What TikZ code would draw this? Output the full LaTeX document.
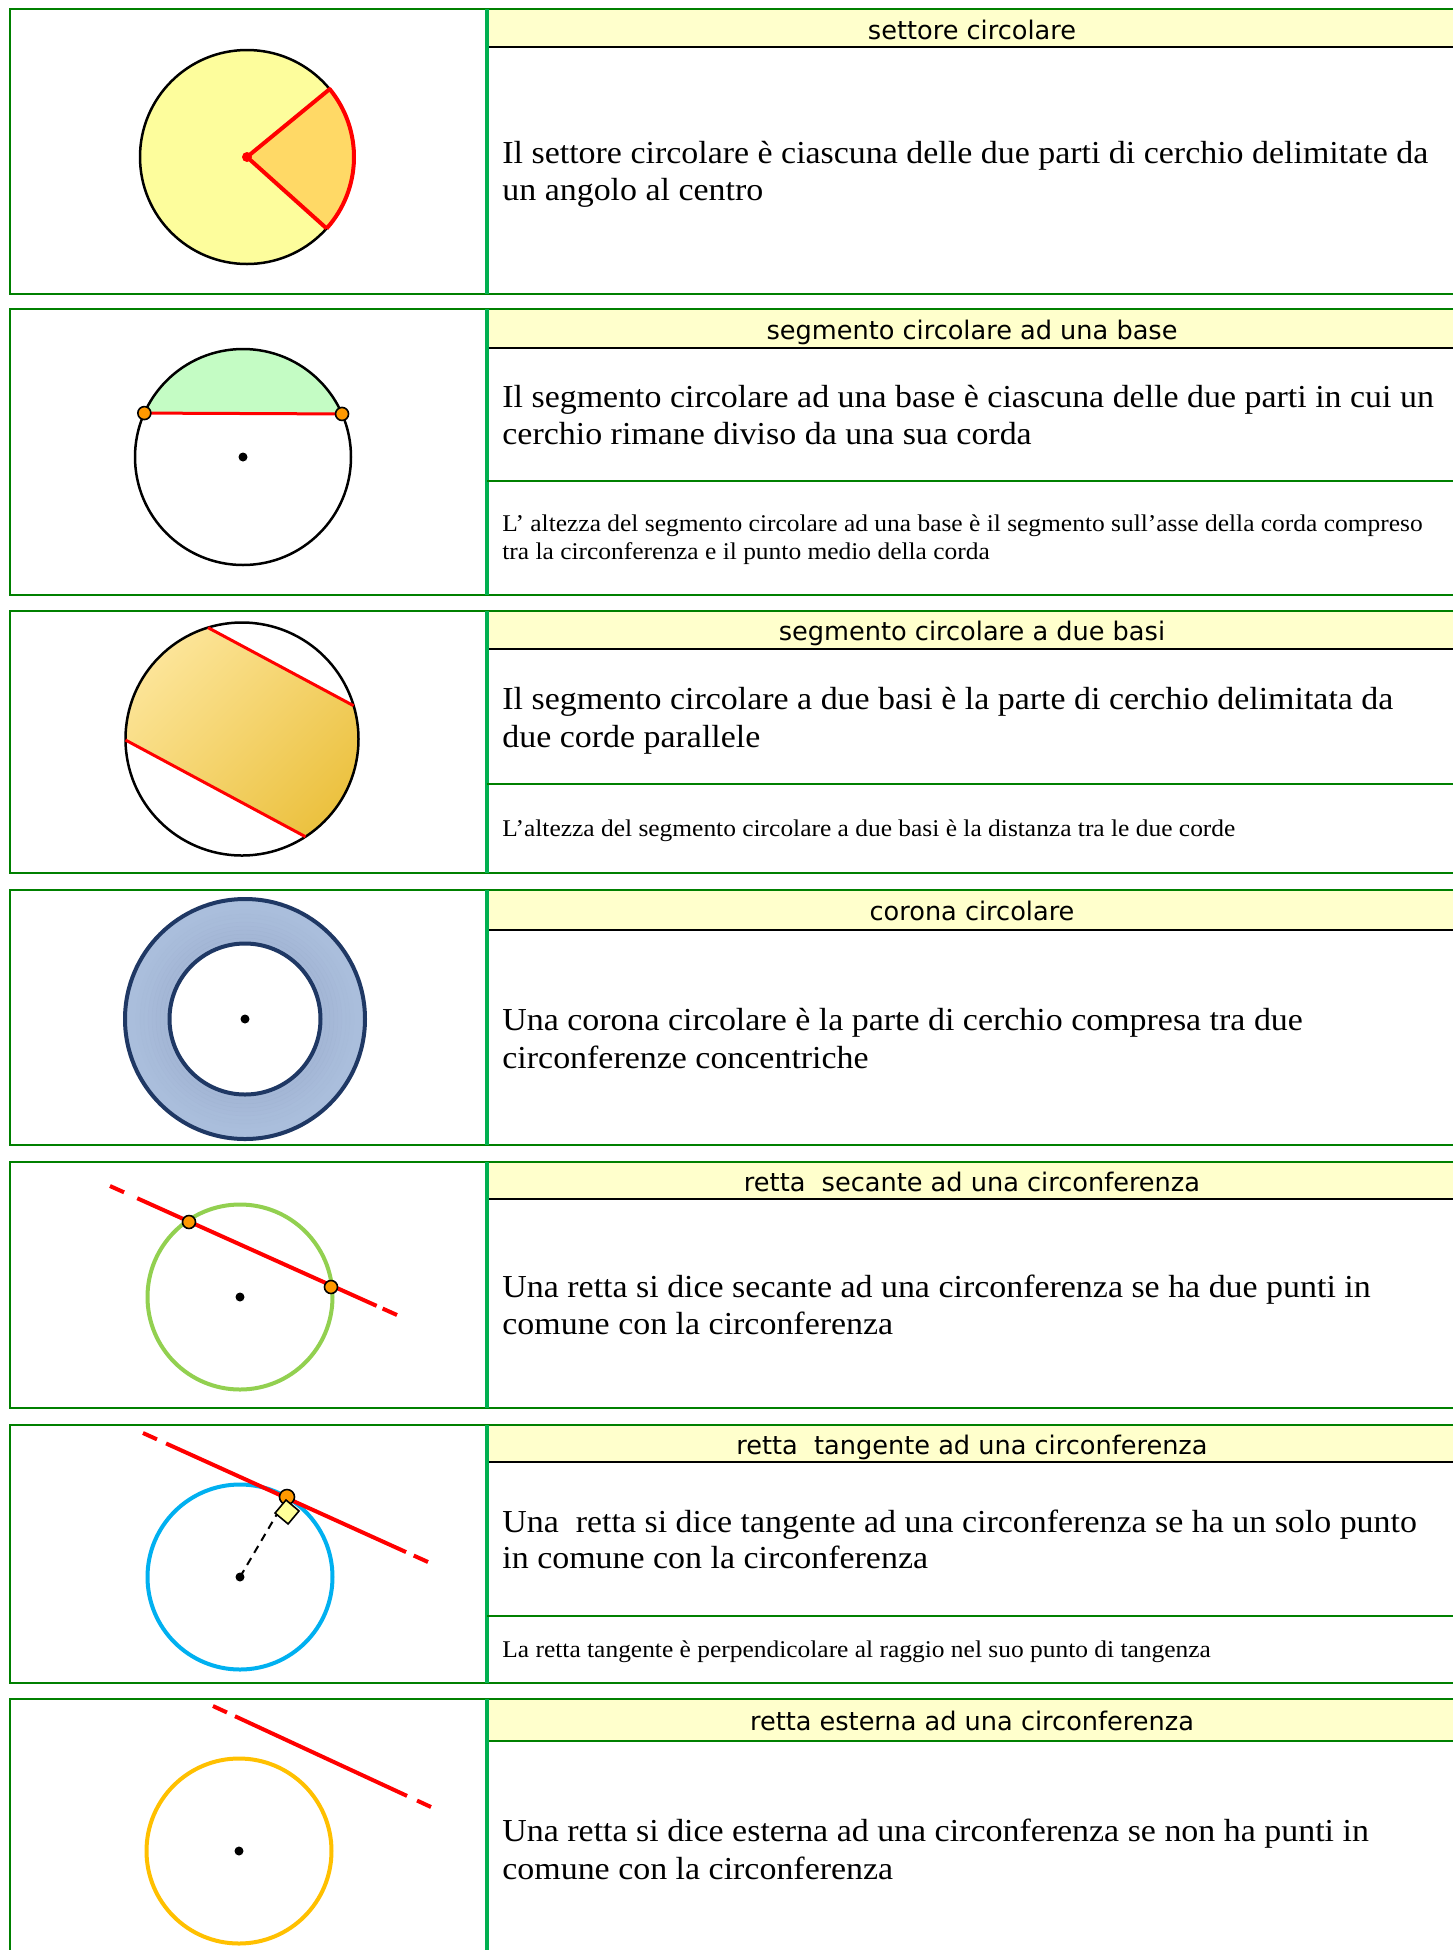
\documentclass[tikz,border=0pt]{standalone}
\usepackage{fontspec}
\setmainfont{Liberation Serif}
\newfontfamily\bodyf{Liberation Serif}[FakeStretch=1.06]
\newfontfamily\headf{DejaVu Sans}
\usetikzlibrary{calc}
\definecolor{bordergreen}{RGB}{0,128,0}
\definecolor{colgreen}{RGB}{0,176,80}
\definecolor{hdryellow}{RGB}{255,255,204}
\definecolor{paleyellow}{RGB}{253,253,156}
\definecolor{sectorfill}{RGB}{255,217,102}
\definecolor{segred}{RGB}{255,0,0}
\definecolor{segfill}{RGB}{196,252,196}
\definecolor{ptorange}{RGB}{255,153,0}
\definecolor{goldlight}{RGB}{252,228,151}
\definecolor{golddark}{RGB}{236,194,65}
\definecolor{navy}{RGB}{31,56,100}
\definecolor{ringblue}{RGB}{170,190,220}
\definecolor{ringdark}{RGB}{140,156,190}
\definecolor{secgreen}{RGB}{146,208,80}
\definecolor{tancyan}{RGB}{0,176,240}
\definecolor{extorange}{RGB}{255,192,0}
\definecolor{sqyellow}{RGB}{255,255,153}
\newcommand\redsplit[6]{%
  \draw[redln] (#1) -- ($(#1)!#3!(#2)$);
  \draw[redln] ($(#1)!#4!(#2)$) -- ($(#1)!#5!(#2)$);
  \draw[redln] ($(#1)!#6!(#2)$) -- (#2);}
\begin{document}
\begin{tikzpicture}[x=0.5pt,y=-0.5pt,
  outer/.style={draw=bordergreen,line width=1.25pt},
  coldiv/.style={draw=colgreen,line width=2pt},
  innerdiv/.style={draw=bordergreen,line width=1pt},
  hdrline/.style={draw=black,line width=0.7pt},
  hdr/.style={font=\headf\fontsize{12.8pt}{15pt}\selectfont,anchor=base,inner sep=0pt},
  body/.style={font=\bodyf\fontsize{16pt}{19pt}\selectfont,anchor=base west,inner sep=0pt},
  small/.style={font=\bodyf\fontsize{12pt}{14pt}\selectfont,anchor=base west,inner sep=0pt},
  circ/.style={line width=1.25pt},
  redln/.style={draw=segred,line width=2pt},
  chord/.style={draw=segred,line width=1.5pt},
  ptdot/.style={fill=ptorange,draw=black,line width=0.8pt},
  cdot/.style={fill=black}
]
\useasboundingbox (0,0) rectangle (1453,1950);
\fill[white] (0,0) rectangle (1453,1950);

% ---------- table frame ----------
\foreach \t/\b/\h in {9/294/47, 309/595/348, 611/873/649, 890/1145/930, 1162/1408/1199, 1425/1683/1462}{
  \fill[hdryellow] (487,\t) rectangle (1453,\h);
  \draw[hdrline] (487,\h) -- (1453,\h);
  \draw[outer] (1453,\t) -- (10,\t) -- (10,\b) -- (1453,\b);
  \draw[coldiv] (487,\t) -- (487,\b);
}
\fill[hdryellow] (487,1699) rectangle (1453,1741);
\draw[innerdiv] (487,1741) -- (1453,1741);
\draw[outer] (1453,1699) -- (10,1699) -- (10,1960);
\draw[coldiv] (487,1699) -- (487,1960);
\draw[innerdiv] (487,481) -- (1453,481);
\draw[innerdiv] (487,784) -- (1453,784);
\draw[innerdiv] (487,1616) -- (1453,1616);

% ---------- texts ----------
\node[hdr] (h1) at (972,39) {settore circolare};
\node[body] (b1a) at (502,163) {Il settore circolare è ciascuna delle due parti di cerchio delimitate da};
\node[body] (b1b) at (502,200) {un angolo al centro};

\node[hdr] (h2) at (972,339) {segmento circolare ad una base};
\node[body] (b2a) at (502,407) {Il segmento circolare ad una base è ciascuna delle due parti in cui un};
\node[body] (b2b) at (502,444) {cerchio rimane diviso da una sua corda};
\node[small] (s2a) at (502,531) {L’ altezza del segmento circolare ad una base è il segmento sull’asse della corda compreso};
\node[small] (s2b) at (502,559) {tra la circonferenza e il punto medio della corda};

\node[hdr] (h3) at (972,640) {segmento circolare a due basi};
\node[body] (b3a) at (502,709) {Il segmento circolare a due basi è la parte di cerchio delimitata da};
\node[body] (b3b) at (502,747) {due corde parallele};
\node[small] (s3a) at (502,836) {L’altezza del segmento circolare a due basi è la distanza tra le due corde};

\node[hdr] (h4) at (972,920) {corona circolare};
\node[body] (b4a) at (502,1030) {Una corona circolare è la parte di cerchio compresa tra due};
\node[body] (b4b) at (502,1068) {circonferenze concentriche};

\node[hdr] (h5) at (972,1191) {retta\ \ secante ad una circonferenza};
\node[body] (b5a) at (502,1297) {Una retta si dice secante ad una circonferenza se ha due punti in};
\node[body] (b5b) at (502,1334) {comune con la circonferenza};

\node[hdr] (h6) at (972,1454) {retta\ \ tangente ad una circonferenza};
\node[body] (b6a) at (502,1532) {Una\ \ retta si dice tangente ad una circonferenza se ha un solo punto};
\node[body] (b6b) at (502,1568) {in comune con la circonferenza};
\node[small] (s6a) at (502,1657) {La retta tangente è perpendicolare al raggio nel suo punto di tangenza};

\node[hdr] (h7) at (972,1730) {retta esterna ad una circonferenza};
\node[body] (b7a) at (502,1841) {Una retta si dice esterna ad una circonferenza se non ha punti in};
\node[body] (b7b) at (502,1879) {comune con la circonferenza};

% ---------- row 1: settore ----------
\coordinate (c1) at (247,157);
\fill[paleyellow] (c1) circle[radius=107];
\draw[circ] (c1) circle[radius=107];
\fill[sectorfill] (c1) -- ($(c1)+(-39.4:107)$) arc[start angle=-39.4,end angle=41.9,radius=107] -- cycle;
\draw[redln,line join=round] ($(c1)+(41.9:107)$) -- (c1) -- ($(c1)+(-39.4:107)$) arc[start angle=-39.4,end angle=41.9,radius=107];
\fill[segred] (c1) circle[radius=5];

% ---------- row 2: segmento ad una base ----------
\coordinate (c2) at (243,457);
\fill[segfill] ($(c2)+(-156:108)$) arc[start angle=-156,end angle=-23.5,radius=108] -- cycle;
\draw[circ] (c2) circle[radius=108];
\coordinate (p2a) at ($(c2)+(-156:108)$);
\coordinate (p2b) at ($(c2)+(-23.5:108)$);
\draw[chord] (p2a) -- (p2b);
\filldraw[ptdot] (p2a) circle[radius=6.5];
\filldraw[ptdot] (p2b) circle[radius=6.5];
\fill[cdot] (c2) circle[radius=4.5];

% ---------- row 3: segmento a due basi ----------
\coordinate (c3) at (242,739);
\coordinate (q1) at ($(c3)+(-107:116.5)$);
\coordinate (q2) at ($(c3)+(-16.6:116.5)$);
\coordinate (q3) at ($(c3)+(179.5:116.5)$);
\coordinate (q4) at ($(c3)+(57:116.5)$);
\shade[top color=goldlight,bottom color=golddark,shading angle=45]
  (q1) arc[start angle=-107,end angle=-180.5,radius=116.5] -- (q4)
  arc[start angle=57,end angle=-16.6,radius=116.5] -- cycle;
\draw[circ] (c3) circle[radius=116.5];
\draw[chord] (q1) -- (q2);
\draw[chord] (q3) -- (q4);

% ---------- row 4: corona ----------
\coordinate (c4) at (245,1019);
\fill[ringblue,even odd rule] (c4) circle[radius=120] (c4) circle[radius=75.5];
\foreach \r/\o in {79/0.20,83/0.18,87/0.15,91/0.12,95/0.09,99/0.06,103/0.04,107/0.02}{
  \draw[ringdark,opacity=\o,line width=2.2pt] (c4) circle[radius=\r];
}
\draw[navy,line width=2pt] (c4) circle[radius=120];
\draw[navy,line width=2pt] (c4) circle[radius=75.5];
\fill[cdot] (c4) circle[radius=4.5];

% ---------- row 5: secante ----------
\coordinate (c5) at (240,1297);
\draw[secgreen,line width=2pt] (c5) circle[radius=92.5];
\coordinate (A5) at (110,1186);
\coordinate (B5) at (397,1315);
\redsplit{A5}{B5}{0.049}{0.095}{0.929}{0.950}
\filldraw[ptdot] (189,1222) circle[radius=6.5];
\filldraw[ptdot] (331,1287) circle[radius=6.5];
\fill[cdot] (c5) circle[radius=4.5];

% ---------- row 6: tangente ----------
\coordinate (c6) at (240,1577);
\draw[tancyan,line width=2pt] (c6) circle[radius=92.5];
\coordinate (A6) at (143,1433);
\coordinate (B6) at (428,1562);
\redsplit{A6}{B6}{0.049}{0.081}{0.923}{0.950}
\coordinate (T6) at (287,1497);
\draw[black,line width=1pt,dash pattern=on 4pt off 3pt] (c6) -- (T6);
\filldraw[ptdot] (T6) circle[radius=7.5];
\coordinate (sq0) at (286,1500);
\filldraw[fill=sqyellow,draw=black,line width=0.8pt]
  (sq0) -- ++(40:17) -- ++(130:17) -- ++(220:17) -- cycle;
\fill[cdot] (c6) circle[radius=4.5];

% ---------- row 7: esterna ----------
\coordinate (c7) at (239,1851);
\draw[extorange,line width=2pt] (c7) circle[radius=92.5];
\coordinate (A7) at (213,1706);
\coordinate (B7) at (431,1807);
\redsplit{A7}{B7}{0.064}{0.101}{0.890}{0.936}
\fill[cdot] (c7) circle[radius=4.5];
\end{tikzpicture}
\end{document}
